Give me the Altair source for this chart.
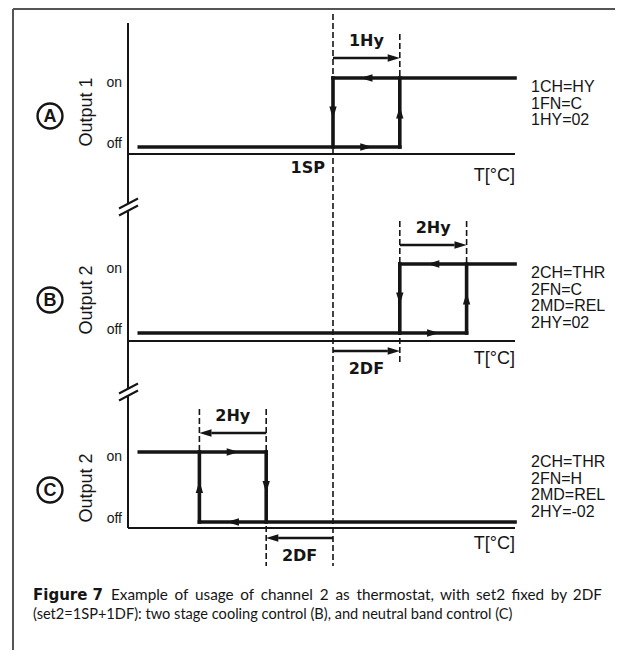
import altair as alt
import pandas as pd

# ---------------- data ----------------
panels = ["A", "B", "C"]
output_names = ["Output 1", "Output 2", "Output 2"]
control_mode = ["C", "C", "H"]          # C = cooling, H = heating (neutral band)
set_offset = [0.0, 2.0, -2.0]           # set point relative to 1SP in °C (0 / 2DF / 2DF)
hysteresis = [2.0, 2.0, -2.0]           # 1HY / 2HY / 2HY
level_names = ["off", "on"]
param_text = [
    ["1CH=HY", "1FN=C", "1HY=02"],
    ["2CH=THR", "2FN=C", "2MD=REL", "2HY=02"],
    ["2CH=THR", "2FN=H", "2MD=REL", "2HY=-02"],
]
hy_names = ["1Hy", "2Hy", "2Hy"]
df_names = ["", "2DF", "2DF"]
sp_name = "1SP"
t_axis_name = "T[°C]"
curve_span = [-5.8, 5.45]               # °C range of the drawn characteristic
caption_bold = "Figure 7"
caption_1 = "Example of usage of channel 2 as thermostat, with set2 fixed by 2DF"
caption_2 = "(set2=1SP+1DF): two stage cooling control (B), and neutral band control (C)"

# ---------------- layout ----------------
W, H = 607, 642
PX_PER_C = 33.4
SP_X = 333.0
X_DOM = [(8 - SP_X) / PX_PER_C, (8 + W - SP_X) / PX_PER_C]


def T(px):  # page x pixel -> °C position
    return (px - SP_X) / PX_PER_C


off_y = [147, 333, 522]
on_y = [78, 264, 452]
axis_y = [154, 341, 528]
dim_hy_y = [58, 245, 433]
dim_df_y = [0, 351, 538]
dash_top = [34, 221, 409]
dash_bottom_df = [0, 362, 566]
hy_lab_y = [41, 228, 416]
df_lab_y = [0, 369, 556]
tlab_y = [176, 359, 544]
out_lab_y = [112, 300, 488]
circ_y = [116, 300, 490]
param_y0 = [87, 273, 462]
AXIS_X = 128
BREAKS = [207, 392]
HEAD = 6.0 / PX_PER_C

xs = alt.Scale(domain=X_DOM, nice=False, zero=False)
ys = alt.Scale(domain=[8 + H, 8], nice=False, zero=False)

curve, arrows, dashed, dims, axes = [], [], [], [], []
texts = []

T_LO, T_HI = curve_span
for i in range(3):
    s = set_offset[i]
    h = hysteresis[i]
    y0, y1 = off_y[i], on_y[i]
    ym = (y0 + y1) / 2
    if control_mode[i] == "C":
        curve += [(T_LO, y0, s + h, y0), (s + h, y0, s + h, y1),
                  (s, y1, T_HI, y1), (s, y1, s, y0)]
        arrows += [(s + h / 2, y0, 0), (s + h / 2, y1, 180),
                   (s + h, ym, 270), (s, ym, 90)]
    else:
        curve += [(T_LO, y1, s, y1), (s, y1, s, y0),
                  (s + h, y0, T_HI, y0), (s + h, y0, s + h, y1)]
        arrows += [(s + h / 2, y1, 0), (s + h / 2, y0, 180),
                   (s + h, ym, 270), (s, ym, 90)]
    # hysteresis dimension arrow
    sg = 1 if h > 0 else -1
    dims.append((s, dim_hy_y[i], s + h - sg * 2 * HEAD, dim_hy_y[i]))
    arrows.append((s + h - sg * HEAD, dim_hy_y[i], 0 if sg > 0 else 180))
    dashed.append((s + h, dash_top[i], s + h, y1))
    texts.append(dict(x=s + h / 2, y=hy_lab_y[i], t=hy_names[i], k="dimlab"))
    if s != 0:
        sd = 1 if s > 0 else -1
        dims.append((0, dim_df_y[i], s - sd * 2 * HEAD, dim_df_y[i]))
        arrows.append((s - sd * HEAD, dim_df_y[i], 0 if sd > 0 else 180))
        dashed.append((s, dash_top[i], s, dash_bottom_df[i]))
        texts.append(dict(x=s / 2, y=df_lab_y[i], t=df_names[i], k="dimlab"))
    # axes and labels
    axes.append((T(AXIS_X), axis_y[i], T(515), axis_y[i]))
    texts.append(dict(x=T(515), y=tlab_y[i], t=t_axis_name, k="tlab"))
    texts.append(dict(x=T(122), y=y1 + 5, t=level_names[1], k="lvl"))
    texts.append(dict(x=T(122), y=y0 - 3, t=level_names[0], k="lvl"))
    texts.append(dict(x=T(87), y=out_lab_y[i], t=output_names[i], k="out"))
    texts.append(dict(x=T(50), y=circ_y[i] + 0.5, t=panels[i], k="circ"))
    for j, p in enumerate(param_text[i]):
        texts.append(dict(x=T(531), y=param_y0[i] + j * 16.6, t=p, k="param"))

# set point dashed line
dashed.append((0, 14, 0, 566))
texts.append(dict(x=T(325), y=168, t=sp_name, k="sp"))

# vertical axis with breaks
pts = [23]
for b in BREAKS:
    pts += [b - 4, b + 4]
pts.append(axis_y[2])
for a, b in zip(pts[0::2], pts[1::2]):
    axes.append((T(AXIS_X), a, T(AXIS_X), b))
for b in BREAKS:
    for d in (-3.5, 3.5):
        axes.append((T(119), b + d + 5, T(138), b + d - 5))

# frame (top and left edges)
frame = [(T(13), 9, T(8 + W), 9), (T(13), 9, T(13), 8 + H)]

# caption: bold lead, justified first line, free second line
CAP_X0, CAP_X1, CAP_R = 33, 111, 602
CAP_SIZE = 14.6
CAP1_SIZE = 15.3
LATO_EM = {
    "a": .50, "b": .56, "c": .46, "d": .56, "e": .52, "f": .32, "g": .50, "h": .56,
    "i": .24, "j": .24, "k": .49, "l": .24, "m": .84, "n": .56, "o": .56, "p": .56,
    "q": .56, "r": .36, "s": .42, "t": .34, "u": .56, "v": .49, "w": .76, "x": .48,
    "y": .49, "z": .44, ",": .22, "D": .72, "F": .54, "E": .56,
}


def est_w(word):
    return sum(LATO_EM.get(c, .58) for c in word) * CAP1_SIZE


words = caption_1.split(" ")
widths = [est_w(w) for w in words]
gap = (CAP_R - CAP_X1 - sum(widths)) / (len(words) - 1)
xpos = CAP_X1
for n, (w, wd) in enumerate(zip(words, widths)):
    if n == len(words) - 1:
        texts.append(dict(x=T(CAP_R), y=595, t=w, k="cap1r"))
    else:
        texts.append(dict(x=T(xpos), y=595, t=w, k="cap1"))
    xpos += wd + gap
texts.append(dict(x=T(CAP_X0), y=595, t=caption_bold, k="capb"))
texts.append(dict(x=T(CAP_X0), y=615, t=caption_2, k="cap"))


def segdf(rows):
    return pd.DataFrame(rows, columns=["x", "y", "x2", "y2"])


enc = dict(
    x=alt.X("x:Q", scale=xs, axis=None),
    y=alt.Y("y:Q", scale=ys, axis=None),
    x2="x2:Q",
    y2="y2:Q",
)
INK = "#151515"

l_frame = alt.Chart(segdf(frame)).mark_rule(color="#555555", strokeWidth=2).encode(**enc)
l_axes = alt.Chart(segdf(axes)).mark_rule(color=INK, strokeWidth=2).encode(**enc)
l_dash = alt.Chart(segdf(dashed)).mark_rule(color=INK, strokeWidth=1.6, strokeDash=[6, 3]).encode(**enc)
l_dims = alt.Chart(segdf(dims)).mark_rule(color=INK, strokeWidth=2.6).encode(**enc)
l_curve = alt.Chart(segdf(curve)).mark_rule(color=INK, strokeWidth=3.6, strokeCap="square").encode(**enc)

adf = pd.DataFrame(arrows, columns=["x", "y", "ang"])
l_arrow = alt.Chart(adf).mark_point(
    shape="M1,0L-1,-0.6L-1,0.6Z", filled=True, opacity=1, color=INK, size=150, strokeWidth=0
).encode(
    x=alt.X("x:Q", scale=xs, axis=None),
    y=alt.Y("y:Q", scale=ys, axis=None),
    angle=alt.Angle("ang:Q", scale=None),
)

circ_df = pd.DataFrame(dict(x=[T(50)] * 3, y=circ_y))
l_circ = alt.Chart(circ_df).mark_point(
    shape="circle", filled=False, color=INK, size=620, strokeWidth=2.4, opacity=1
).encode(x=alt.X("x:Q", scale=xs, axis=None), y=alt.Y("y:Q", scale=ys, axis=None))

tdf = pd.DataFrame(texts)
tenc = dict(x=alt.X("x:Q", scale=xs, axis=None), y=alt.Y("y:Q", scale=ys, axis=None), text="t:N")


def tl(kind, **kw):
    return alt.Chart(tdf).transform_filter(alt.datum.k == kind).mark_text(
        color=INK, baseline="middle", **kw).encode(**tenc)


l_text = [
    tl("dimlab", font="DejaVu Sans", fontWeight="bold", fontSize=16, align="center"),
    tl("sp", font="DejaVu Sans", fontWeight="bold", fontSize=16, align="right"),
    tl("tlab", font="Liberation Sans", fontSize=18, align="right"),
    tl("lvl", font="Liberation Sans", fontSize=14, align="right"),
    tl("out", font="Liberation Sans", fontSize=18, align="center", angle=270),
    tl("circ", font="Liberation Sans", fontWeight="bold", fontSize=18, align="center"),
    tl("param", font="Liberation Sans", fontSize=16, align="left"),
    tl("capb", font="DejaVu Sans", fontWeight="bold", fontSize=15, align="left"),
    tl("cap", font="Lato", fontSize=CAP_SIZE, align="left"),
    tl("cap1", font="Lato", fontSize=CAP1_SIZE, align="left"),
    tl("cap1r", font="Lato", fontSize=CAP1_SIZE, align="right"),
]

chart = alt.layer(
    l_frame, l_axes, l_dash, l_dims, l_curve, l_arrow, l_circ, *l_text
).properties(width=W, height=H, padding=0, autosize="none").configure_view(stroke=None)

chart.save("out.html", embed_options={"renderer": "svg", "actions": False})
